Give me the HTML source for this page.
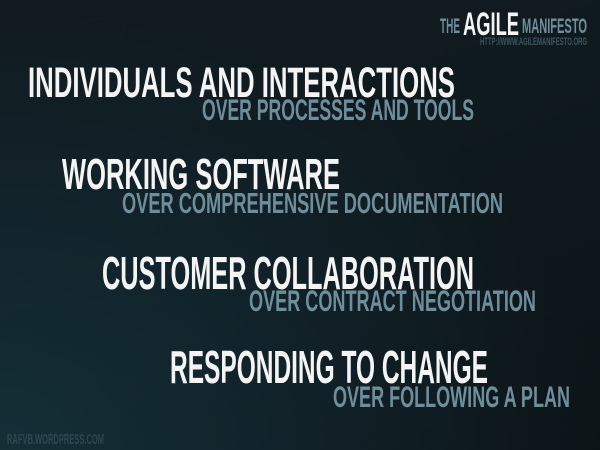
<!DOCTYPE html>
<html><head><meta charset="utf-8"><style>
html,body{margin:0;padding:0;width:600px;height:450px;overflow:hidden}
body{background:linear-gradient(160deg,#111a1f 0%,#0f1a1f 40%,#0c1317 100%)}
svg{position:absolute;left:0;top:0}
text{font-family:"Liberation Sans Narrow","Liberation Sans",sans-serif;font-weight:bold}
</style></head><body>
<svg width="600" height="450" viewBox="0 0 600 450">
<defs>
<radialGradient id="g" cx="0" cy="1" r="1">
<stop offset="0" stop-color="#15313a" stop-opacity="0.9"/>
<stop offset="1" stop-color="#15313a" stop-opacity="0"/>
</radialGradient>
</defs>
<rect width="600" height="450" fill="url(#g)"/>
<g fill="#f4f4f4">
<text x="28" y="97" font-size="43" textLength="427" lengthAdjust="spacingAndGlyphs">INDIVIDUALS AND INTERACTIONS</text>
<text x="62" y="189" font-size="44" textLength="278" lengthAdjust="spacingAndGlyphs">WORKING SOFTWARE</text>
<text x="102" y="289" font-size="46" textLength="372" lengthAdjust="spacingAndGlyphs">CUSTOMER COLLABORATION</text>
<text x="170" y="383" font-size="46" textLength="318" lengthAdjust="spacingAndGlyphs">RESPONDING TO CHANGE</text>
<text x="463" y="35" font-size="32" textLength="56" lengthAdjust="spacingAndGlyphs">AGILE</text>
</g>
<g fill="#6f8e9c">
<text x="202" y="120" font-size="30" textLength="272" lengthAdjust="spacingAndGlyphs">OVER PROCESSES AND TOOLS</text>
<text x="122" y="213" font-size="29" textLength="381" lengthAdjust="spacingAndGlyphs">OVER COMPREHENSIVE DOCUMENTATION</text>
<text x="249" y="311" font-size="30" textLength="287" lengthAdjust="spacingAndGlyphs">OVER CONTRACT NEGOTIATION</text>
<text x="333" y="407" font-size="30" textLength="237" lengthAdjust="spacingAndGlyphs">OVER FOLLOWING A PLAN</text>
<text x="440" y="33" font-size="21" textLength="20" lengthAdjust="spacingAndGlyphs">THE</text>
<text x="522" y="33" font-size="21" textLength="65" lengthAdjust="spacingAndGlyphs">MANIFESTO</text>
</g>
<text x="480" y="45" font-size="11" fill="#3d5560" textLength="107" lengthAdjust="spacingAndGlyphs">HTTP://WWW.AGILEMANIFESTO.ORG</text>
<text x="7" y="444" font-size="15" fill="#2e4650" textLength="97" lengthAdjust="spacingAndGlyphs">RAFVB.WORDPRESS.COM</text>
</svg>
</body></html>
